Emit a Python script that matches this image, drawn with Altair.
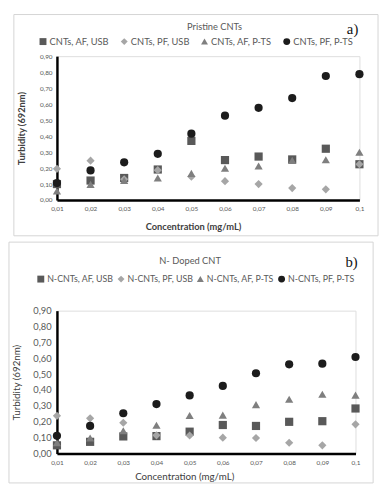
import altair as alt
import pandas as pd

conc = ["0,01", "0,02", "0,03", "0,04", "0,05", "0,06", "0,07", "0,08", "0,09", "0,1"]
y_ticks = [0.0, 0.1, 0.2, 0.3, 0.4, 0.5, 0.6, 0.7, 0.8, 0.9]

# Panel a) Pristine CNTs
names_a = ["CNTs, AF, USB", "CNTs, PF, USB", "CNTs, AF, P-TS", "CNTs, PF, P-TS"]
sq_a = [0.100, 0.122, 0.138, 0.191, 0.370, 0.250, 0.272, 0.254, 0.321, 0.224]
di_a = [0.195, 0.246, 0.130, 0.187, 0.146, 0.118, 0.100, 0.075, 0.067, 0.224]
tr_a = [0.057, 0.098, 0.122, 0.138, 0.167, 0.199, 0.213, 0.248, 0.252, 0.299]
ci_a = [0.106, 0.185, 0.236, 0.289, 0.415, 0.528, 0.577, 0.638, 0.776, 0.787]

# Panel b) N-doped CNT
names_b = ["N-CNTs, AF, USB", "N-CNTs, PF, USB", "N-CNTs, AF, P-TS", "N-CNTs, PF, P-TS"]
sq_b = [0.052, 0.074, 0.108, 0.110, 0.138, 0.180, 0.174, 0.200, 0.204, 0.284]
di_b = [0.238, 0.222, 0.194, 0.115, 0.114, 0.100, 0.098, 0.068, 0.052, 0.184]
tr_b = [0.068, 0.098, 0.144, 0.178, 0.240, 0.242, 0.308, 0.342, 0.374, 0.368]
ci_b = [0.112, 0.174, 0.254, 0.312, 0.366, 0.426, 0.506, 0.562, 0.566, 0.608]

shapes = ["square", "diamond", "triangle-up", "circle"]
colors = ["#595959", "#a6a6a6", "#7f7f7f", "#1c1c1c"]
FONT = "Lato"
GREY = "#595959"


def make_df(names, series):
    rows = []
    for si, (n, vals) in enumerate(zip(names, series)):
        for c, v in zip(conc, vals):
            rows.append({"conc": c, "val": v, "series": n, "order": si})
    return pd.DataFrame(rows)


def panel(df, names, w, h, big, frame, title, tag, title_pos, tag_pos, legend_pos,
          xtitle_pos, ytitle_x):
    one = alt.Data(values=[{}])
    ylab = 9.5 if big else 6.5
    axis_title_size = 10 if big else 9.5
    axis_title_weight = "normal" if big else "bold"
    x_axis = alt.Axis(
        title="Concentration (mg/mL)", domainColor="black", domainWidth=2.5,
        ticks=False, grid=False, labelFontSize=6.5, labelColor=GREY, labelFont=FONT,
        labelPadding=6, labelAngle=0, titleFont=FONT, titleFontSize=axis_title_size,
        titleFontWeight=axis_title_weight, titleColor="#404040",
        titleX=xtitle_pos[0], titleY=xtitle_pos[1], titleAlign="center",
        titleBaseline="middle",
    )
    y_axis = alt.Axis(
        title="Turbidity (692nm)", values=y_ticks, domainColor="black", domainWidth=2.5,
        ticks=False, grid=False, labelFontSize=ylab, labelColor=GREY, labelFont=FONT,
        labelPadding=5 if not big else 6,
        labelExpr="replace(format(datum.value, '.2f'), '.', ',')",
        titleFont=FONT, titleFontSize=axis_title_size, titleFontWeight=axis_title_weight,
        titleColor="#404040", titleX=ytitle_x, titleY=h / 2, titleAngle=-90,
        titleAlign="center", titleBaseline="middle",
    )
    box = alt.Chart(one).mark_rect(filled=False, stroke="#d4d4d4", strokeWidth=1).encode(
        x=alt.value(frame[0]), x2=alt.value(frame[1]),
        y=alt.value(frame[2]), y2=alt.value(frame[3]),
    )
    pts = alt.Chart(df).mark_point(filled=True, opacity=1, size=70).encode(
        x=alt.X("conc:N", sort=conc, scale=alt.Scale(type="point", padding=0), axis=x_axis),
        y=alt.Y("val:Q", scale=alt.Scale(domain=[0, 0.9], nice=False), axis=y_axis),
        shape=alt.Shape("series:N", scale=alt.Scale(domain=names, range=shapes),
                        legend=alt.Legend(title=None)),
        color=alt.Color("series:N", scale=alt.Scale(domain=names, range=colors),
                        legend=alt.Legend(
                            title=None, orient="none", direction="horizontal",
                            legendX=legend_pos[0], legendY=legend_pos[1],
                            labelFont=FONT, labelFontSize=9.5 if not big else 9,
                            labelColor=GREY, symbolSize=50, labelOffset=2,
                            columnPadding=10 if not big else 3, padding=0,
                            symbolStrokeWidth=0)),
        order=alt.Order("order:Q"),
    )
    ttl = alt.Chart(one).mark_text(font=FONT, fontSize=9.5, color=GREY).encode(
        x=alt.value(title_pos[0]), y=alt.value(title_pos[1]), text=alt.value(title))
    tg = alt.Chart(one).mark_text(font="Liberation Serif", fontSize=15, color="#111111").encode(
        x=alt.value(tag_pos[0]), y=alt.value(tag_pos[1]), text=alt.value(tag))
    return alt.layer(box, pts, ttl, tg).properties(width=w, height=h)


df_a = make_df(names_a, [sq_a, di_a, tr_a, ci_a])
df_b = make_df(names_b, [sq_b, di_b, tr_b, ci_b])

top = panel(df_a, names_a, 309, 147, False,
            frame=[-44, 328, -42.5, 183.5], title="Pristine CNTs", tag="a)",
            title_pos=[161, -30], tag_pos=[302, -28], legend_pos=[-19, -20],
            xtitle_pos=[139, 27], ytitle_x=-36)
bottom = panel(df_b, names_b, 305, 146, True,
               frame=[-49, 323, -70, 176], title="N- Doped CNT", tag="b)",
               title_pos=[136, -51], tag_pos=[301, -50], legend_pos=[-21, -37],
               xtitle_pos=[130, 23], ytitle_x=-41)

chart = alt.vconcat(top, bottom, spacing=4).resolve_scale(
    color="independent", shape="independent"
).properties(padding=0).configure_view(stroke=None).configure(font=FONT)

chart.save("out.html", embed_options={"renderer": "svg", "actions": False})
